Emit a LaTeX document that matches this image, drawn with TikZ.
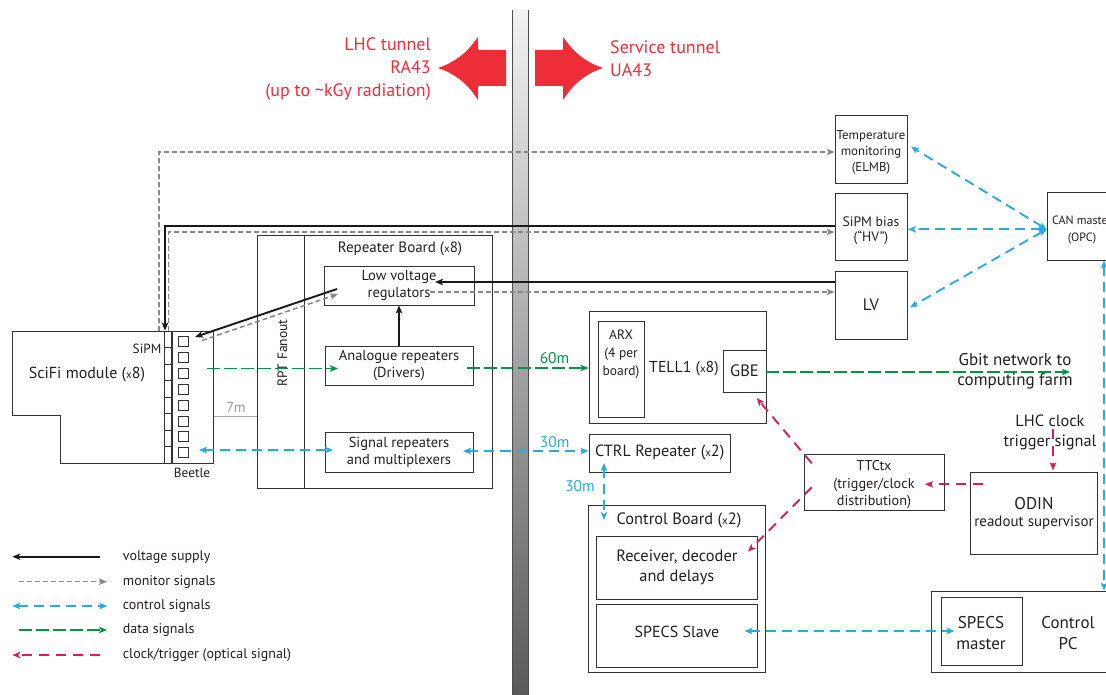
\documentclass[tikz,border=0pt]{standalone}
\usepackage{fontspec}
\setmainfont{PT Sans}
\usetikzlibrary{arrows.meta,calc}
\definecolor{redA}{RGB}{237,45,56}
\definecolor{blueC}{RGB}{41,171,226}
\definecolor{greenD}{RGB}{0,148,68}
\definecolor{clkR}{RGB}{218,28,92}
\definecolor{monG}{RGB}{135,135,135}
\definecolor{boxc}{RGB}{50,50,50}
\definecolor{txt}{RGB}{35,31,32}
\newcommand\mysmallx{{\fontsize{11}{11}\selectfont x}}
\newcommand\fs[2]{\fontsize{#1}{#2}\selectfont}
\begin{document}
\begin{tikzpicture}[x=1pt,y=-1pt,
  >={Stealth[length=8pt,width=6.5pt,inset=2pt]},
  font=\fs{13}{16}, text=txt,
  box/.style={draw=boxc, line width=0.9pt, inner sep=0pt, align=center},
  lbl/.style={inner sep=0pt, align=center},
  volt/.style={draw=black!90, line width=1.9pt},
  mon/.style={draw=monG, line width=1.5pt, dash pattern=on 5pt off 3pt},
  ctl/.style={draw=blueC, line width=1.9pt, dash pattern=on 10pt off 6pt},
  data/.style={draw=greenD, line width=1.9pt, dash pattern=on 13pt off 4pt},
  clk/.style={draw=clkR, line width=1.9pt, dash pattern=on 10pt off 7pt},
  sevenm/.style={draw=black!35, line width=1pt}]
\useasboundingbox (0,0) rectangle (1106,695);
\fill[white] (0,0) rectangle (1106,695);
\begin{scope}
\clip (0,0) rectangle (1106,695);

% wall
\shade[top color=white!95!black, bottom color=gray!70!black] (512,10) rectangle (528,695);
\draw[black!70, line width=0.8pt] (512,10) -- (512,695) (528,10) -- (528,695);

% red arrows
\fill[redA] (438,68) .. controls (462,60) and (472,45) .. (478,37) -- (478,50) -- (506,50) -- (506,86) -- (478,86) -- (478,100) .. controls (472,91) and (462,76) .. (438,68) -- cycle;
\fill[redA] (603,68) .. controls (579,60) and (569,45) .. (563,37) -- (563,50) -- (535,50) -- (535,86) -- (563,86) -- (563,100) .. controls (569,91) and (579,76) .. (603,68) -- cycle;
\node[lbl, text=redA, font=\fs{18}{23}, align=right, anchor=east] (lhct) at (431,69.5) {LHC tunnel\\RA43\\(up to \textasciitilde kGy radiation)};
\node[lbl, text=redA, font=\fs{18}{23}, align=left, anchor=west] (svct) at (610,58.3) {Service tunnel\\UA43};

% SciFi module
\draw[boxc, line width=0.9pt] (12,331) -- (172,331) -- (172,463) -- (60,463) -- (60,415) -- (12,415) -- cycle;
\node[box, minimum width=7pt, minimum height=132pt] (sipm) at (167.5,397) {};
\foreach \i in {1,...,7} \draw[boxc, line width=0.8pt] (164,331+16.5*\i) -- (171,331+16.5*\i);
\node[box, minimum width=42.5pt, minimum height=132pt] (beetle) at (192.25,397) {};
\foreach \i in {0,...,7} \node[box, line width=0.8pt, minimum width=10.5pt, minimum height=10pt] (bsq\i) at (183.6,341.7+15.86*\i) {};
\node[lbl, font=\fs{13.3}{15}, anchor=east] (sipmt) at (161.5,349.3) {SiPM};
\node[lbl, font=\fs{16}{18}] (scifit) at (87,375) {SciFi module (\mysmallx8)};
\node[lbl, font=\fs{13.3}{15}] (beetlet) at (192,473.3) {Beetle};

% Repeater board
\node[box, minimum width=235pt, minimum height=253pt] (rb) at (374.5,361.5) {};
\draw[boxc, line width=0.9pt] (rb.north -| 304,0) -- (rb.south -| 304,0);
\node[lbl, font=\fs{15}{17}] (rbt) at (400,249.3) {Repeater Board (\mysmallx8)};
\node[lbl, font=\fs{13.6}{16}, rotate=90] (fan) at (282.5,353) {RPT Fanout};
\node[box, minimum width=150pt, minimum height=39pt, font=\fs{14.5}{17}] (lvr) at (399,285.5) {Low voltage\\regulators};
\node[box, minimum width=148pt, minimum height=39pt, font=\fs{14.5}{17}] (ana) at (399,365.5) {Analogue repeaters\\(Drivers)};
\node[box, minimum width=148pt, minimum height=40pt, font=\fs{14.5}{17}] (sig) at (399,452) {Signal repeaters\\and multiplexers};

% 7m
\draw[sevenm] (beetle.east |- 0,416) -- (rb.west |- 0,416);
\node[lbl, text=black!40, font=\fs{14.5}{15}] (sevent) at (236,407.5) {7m};

% right top boxes
\node[box, minimum width=72pt, minimum height=68pt] (temp) at (871,149) {};
\node[lbl, font=\fs{12.8}{16}] (tempt) at (871,152) {Temperature\\monitoring\\(ELMB)};
\node[box, minimum width=72pt, minimum height=67pt] (hv) at (871,226.5) {};
\node[lbl, font=\fs{13.7}{15.6}] (hvt) at (871,230.5) {SiPM bias\\(``HV'')};
\node[box, minimum width=72pt, minimum height=68pt, font=\fs{16.5}{18}] (lv) at (871,305) {LV};
\node[box, minimum width=68pt, minimum height=68pt] (can) at (1081,226) {};
\node[lbl, font=\fs{12}{17.3}] (cant) at (1082,230.3) {CAN master\\(OPC)};

% TELL1
\node[box, minimum width=177pt, minimum height=112pt] (tell) at (677.5,367) {};
\node[box, minimum width=46pt, minimum height=96pt] (arx) at (621,369) {};
\node[lbl, font=\fs{13.5}{18}] (arxt) at (621,354) {ARX\\(4 per\\board)};
\node[lbl, font=\fs{15.8}{17}] (tellt) at (684,369) {TELL1 (\mysmallx8)};
\node[box, minimum width=43pt, minimum height=42pt, font=\fs{16.5}{18}] (gbe) at (744.5,371) {GBE};

% CTRL repeater and control board
\node[box, minimum width=141.5pt, minimum height=38pt, font=\fs{16.2}{17}] (ctrl) at (659.75,453) {CTRL Repeater (\mysmallx2)};
\node[box, minimum width=177pt, minimum height=167pt] (cb) at (677,589.2) {};
\node[lbl, font=\fs{16.4}{17}] (cbt) at (679,520) {Control Board (\mysmallx2)};
\node[box, minimum width=161.7pt, minimum height=63pt, font=\fs{16.4}{20}] (recv) at (676.85,567.5) {Receiver, decoder\\and delays};
\node[box, minimum width=161.7pt, minimum height=63.4pt] (ss) at (676.85,636) {};
\node[lbl, font=\fs{16}{17}] (sst) at (677,632) {SPECS Slave};

% TTC, ODIN, control PC
\node[box, minimum width=139.7pt, minimum height=55.7pt] (ttc) at (874.35,482.15) {};
\node[lbl, font=\fs{14.2}{17.3}] (ttct) at (874,484.7) {TTCtx\\(trigger/clock\\distribution)};
\node[box, minimum width=127.7pt, minimum height=82pt] (odin) at (1033.85,513.3) {};
\node[lbl, font=\fs{17}{18}] (odint) at (1034,503.3) {ODIN};
\node[lbl, font=\fs{15}{16}] (odint2) at (1034,522.3) {readout supervisor};
\node[box, minimum width=183.6pt, minimum height=81.7pt] (cpc) at (1023.2,631.85) {};
\node[box, minimum width=81pt, minimum height=67.3pt] (sm) at (981.5,631.35) {};
\node[lbl, font=\fs{17}{21}] (smt) at (981,633) {SPECS\\master};
\node[lbl, font=\fs{17}{21}] (cpct) at (1068,633) {Control\\PC};

\node[lbl, font=\fs{17}{20.7}] (farmt) at (1015,371.3) {Gbit network to\\computing farm};
\node[lbl, font=\fs{16.3}{19.6}] (lhcclk) at (1050,432.5) {LHC clock\\trigger signal};

% ---------- connectors ----------
\draw[mon,->] (sipm.north -| 159,0) |- (temp.west |- 0,152);
\draw[volt,->] (hv.west |- 0,226) -| (sipm.north -| 165,0);
\draw[mon,->] (sipm.north -| 168.5,0) |- (hv.west |- 0,232);
\coordinate (lvrA) at (435,282);
\coordinate (lvrB) at (430,292);
\draw[volt,->] (lv.west |- lvrA) -- (lvrA);
\draw[mon,->] (lvrB) -- (lv.west |- lvrB);
\coordinate (lvrC) at (337,289);
\coordinate (btA) at (195,337);
\coordinate (btB) at (202,340.5);
\coordinate (lvrD) at (338,294);
\draw[volt,->] (lvrC) -- (btA);
\draw[mon,->] (btB) -- (lvrD);
\draw[volt,->] (ana.north) -- (lvr.south);
\coordinate (btC) at (207,368.5);
\coordinate (anaA) at (338,368.5);
\coordinate (anaB) at (467,368);
\coordinate (farm) at (1070,372);
\draw[data,->] (btC) -- (anaA);
\draw[data,->] (anaB) -- (tell.west |- anaB);
\node[lbl, text=greenD, font=\fs{15.5}{16}] (sixty) at (554.5,358.3) {60m};
\draw[data,->] (gbe.east |- farm) -- (farm);
\coordinate (btD) at (199,450);
\coordinate (sigA) at (333,450);
\coordinate (sigB) at (463,451);
\draw[ctl,<->] (btD) -- (sigA);
\draw[ctl,<->] (sigB) -- (ctrl.west |- sigB);
\node[lbl, text=blueC, font=\fs{15.5}{16}] (thirtyA) at (554.7,441.7) {30m};
\coordinate (ctrlA) at (604,463);
\coordinate (cbA) at (604,520);
\draw[ctl,<->] (ctrlA) -- (cbA);
\node[lbl, text=blueC, font=\fs{15.5}{16}] (thirtyB) at (580,486) {30m};
\coordinate (ssA) at (744.5,631);
\coordinate (smA) at (954.4,631);
\draw[ctl,<->] (ssA) -- (smA);
\coordinate (canA) at (1046.7,229.3);
\coordinate (tempA) at (911,146.7);
\coordinate (hvA) at (908,229.3);
\coordinate (lvA) at (910,307.3);
\draw[ctl,<->] (canA) -- (tempA);
\draw[ctl,<->] (canA) -- (hvA);
\draw[ctl,<->] (canA) -- (lvA);
\draw[ctl,<->] (can.south -| 1104,0) -- (cpc.north -| 1104,0);
\coordinate (odinA) at (982.7,484.3);
\coordinate (ttcA) at (925,484.3);
\draw[clk,->] (odinA) -- (ttcA);
\coordinate (lhcA) at (1053,429);
\coordinate (lhcB) at (1053,470.5);
\draw[clk,->] (lhcA) -- (lhcB);
\coordinate (ttcB) at (811.7,463.3);
\coordinate (gbeA) at (756.7,398);
\draw[clk,->] (ttcB) -- (gbeA);
\coordinate (ttcC) at (811.7,487.3);
\coordinate (recvA) at (748,551.7);
\draw[clk,->] (ttcC) -- (recvA);

% ---------- legend ----------
\coordinate (lgA1) at (100,556.7); \coordinate (lgA2) at (12.3,556.7);
\coordinate (lgB1) at (19,581.7); \coordinate (lgB2) at (107,581.7);
\coordinate (lgC1) at (12.3,606); \coordinate (lgC2) at (107.3,606);
\coordinate (lgD1) at (19,630); \coordinate (lgD2) at (107,630);
\coordinate (lgE1) at (100,655); \coordinate (lgE2) at (12.3,655);
\draw[volt,->] (lgA1) -- (lgA2);
\draw[mon,->] (lgB1) -- (lgB2);
\draw[ctl,<->] (lgC1) -- (lgC2);
\draw[data,->] (lgD1) -- (lgD2);
\draw[clk,->] (lgE1) -- (lgE2);
\node[lbl, anchor=west, font=\fs{14}{15}] (lgtA) at (122.7,556.7) {voltage supply};
\node[lbl, anchor=west, font=\fs{14}{15}] (lgtB) at (122.7,581.7) {monitor signals};
\node[lbl, anchor=west, font=\fs{14}{15}] (lgtC) at (122.7,606) {control signals};
\node[lbl, anchor=west, font=\fs{14}{15}] (lgtD) at (122.7,630) {data signals};
\node[lbl, anchor=west, font=\fs{14}{15}] (lgtE) at (122.7,655) {clock/trigger (optical signal)};
\end{scope}
\end{tikzpicture}
\end{document}
